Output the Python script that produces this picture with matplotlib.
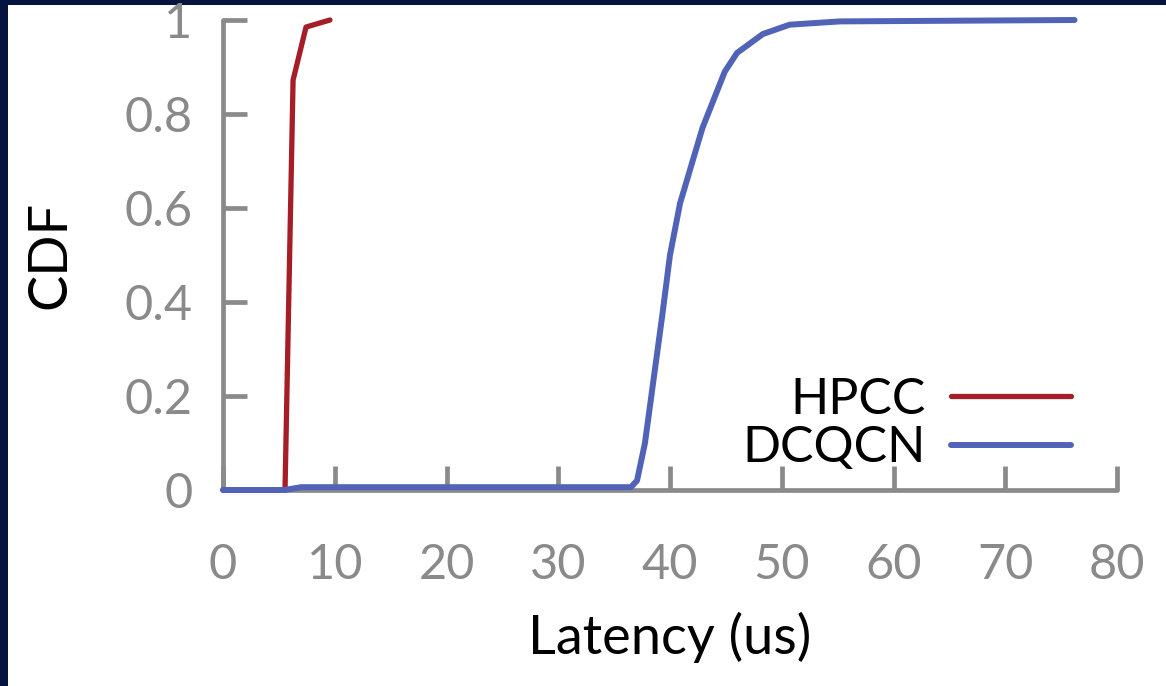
import matplotlib
matplotlib.use("Agg")
import matplotlib.pyplot as plt
from matplotlib.patches import Rectangle

plt.rcParams['font.family'] = ['Lato', 'DejaVu Sans']

# Data (latency in us, CDF)
hpcc_x = [0.0, 5.55, 6.27, 7.43, 9.57]
hpcc_y = [0.0, 0.0, 0.872, 0.985, 1.0]

dcqcn_x = [0.0, 5.5, 7.0, 36.5, 37.05, 37.76, 38.5, 39.3, 40.0, 40.9, 42.9, 44.9, 46.0, 48.3, 50.7, 55.2, 76.2]
dcqcn_y = [0.0, 0.0, 0.006, 0.006, 0.02, 0.10, 0.23, 0.37, 0.50, 0.61, 0.77, 0.89, 0.93, 0.97, 0.99, 0.997, 1.0]

x_ticks = [0, 10, 20, 30, 40, 50, 60, 70, 80]
y_ticks = [0, 0.2, 0.4, 0.6, 0.8, 1.0]
y_tick_labels = ['0', '0.2', '0.4', '0.6', '0.8', '1']

W, H = 1166, 686
fig = plt.figure(figsize=(W / 100, H / 100), dpi=100, facecolor='#04133f')
fig.patches.append(Rectangle((8 / W, 0), 1, (H - 5) / H, transform=fig.transFigure,
                             facecolor='white', edgecolor='none', zorder=-1))

ax = fig.add_axes([223 / W, (H - 490) / H, (1117 - 223) / W, (490 - 20) / H])
ax.set_facecolor('white')

red = '#a51d26'
blue = '#5063b6'
gray = '#8a8a8a'

ax.plot(hpcc_x, hpcc_y, color=red, lw=3.8, label='HPCC', clip_on=False,
        solid_joinstyle='round', solid_capstyle='round', zorder=3)
ax.plot(dcqcn_x, dcqcn_y, color=blue, lw=4.3, label='DCQCN', clip_on=False,
        solid_joinstyle='round', solid_capstyle='round', zorder=4)

ax.set_xlim(0, 80)
ax.set_ylim(0, 1)
ax.set_xticks(x_ticks)
ax.set_yticks(y_ticks)
ax.set_yticklabels(y_tick_labels)

for s in ['top', 'right']:
    ax.spines[s].set_visible(False)
for s in ['left', 'bottom']:
    ax.spines[s].set_color(gray)
    ax.spines[s].set_linewidth(3.4)
    ax.spines[s].set_capstyle('round')

ax.tick_params(axis='both', direction='in', length=17, width=3.4, color=gray,
               labelcolor=gray, labelsize=35)
ax.tick_params(axis='x', pad=38)
ax.tick_params(axis='y', pad=22)

ax.set_xlabel('Latency (us)', fontsize=39, color='black', labelpad=18)
ax.set_ylabel('CDF', fontsize=39, color='black', labelpad=36)

leg = ax.legend(loc='lower right', bbox_to_anchor=(0.948, 0.04), frameon=False,
                markerfirst=False, fontsize=36, handlelength=2.4, handletextpad=0.5,
                labelspacing=0.05, borderpad=0, borderaxespad=0)

fig.savefig('out.png', dpi=100, facecolor=fig.get_facecolor())
